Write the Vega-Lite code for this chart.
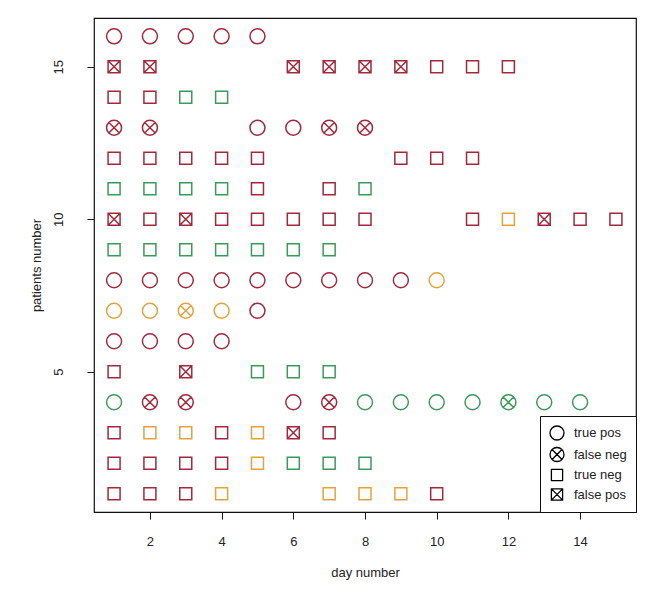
{
  "$schema": "https://vega.github.io/schema/vega-lite/v6.json",
  "width": 542,
  "height": 494,
  "autosize": {"type": "none"},
  "padding": {"left": 94, "top": 18, "right": 32, "bottom": 78},
  "background": "white",
  "config": {
    "font": "Liberation Sans",
    "view": {"stroke": "#111", "strokeWidth": 1.2},
    "axis": {"domain": false, "grid": false, "tickColor": "#111", "tickSize": 7, "tickWidth": 1, "labelFontSize": 13, "labelColor": "#222", "titleFontSize": 13, "titleFontWeight": "normal", "titleColor": "#222"}
  },
  "data": {"values": [
    {"d":1,"p":16,"t":"true pos","c":"red"},{"d":2,"p":16,"t":"true pos","c":"red"},{"d":3,"p":16,"t":"true pos","c":"red"},{"d":4,"p":16,"t":"true pos","c":"red"},{"d":5,"p":16,"t":"true pos","c":"red"},
    {"d":1,"p":15,"t":"false pos","c":"red"},{"d":2,"p":15,"t":"false pos","c":"red"},{"d":6,"p":15,"t":"false pos","c":"red"},{"d":7,"p":15,"t":"false pos","c":"red"},{"d":8,"p":15,"t":"false pos","c":"red"},{"d":9,"p":15,"t":"false pos","c":"red"},{"d":10,"p":15,"t":"true neg","c":"red"},{"d":11,"p":15,"t":"true neg","c":"red"},{"d":12,"p":15,"t":"true neg","c":"red"},
    {"d":1,"p":14,"t":"true neg","c":"red"},{"d":2,"p":14,"t":"true neg","c":"red"},{"d":3,"p":14,"t":"true neg","c":"green"},{"d":4,"p":14,"t":"true neg","c":"green"},
    {"d":1,"p":13,"t":"false neg","c":"red"},{"d":2,"p":13,"t":"false neg","c":"red"},{"d":5,"p":13,"t":"true pos","c":"red"},{"d":6,"p":13,"t":"true pos","c":"red"},{"d":7,"p":13,"t":"false neg","c":"red"},{"d":8,"p":13,"t":"false neg","c":"red"},
    {"d":1,"p":12,"t":"true neg","c":"red"},{"d":2,"p":12,"t":"true neg","c":"red"},{"d":3,"p":12,"t":"true neg","c":"red"},{"d":4,"p":12,"t":"true neg","c":"red"},{"d":5,"p":12,"t":"true neg","c":"red"},{"d":9,"p":12,"t":"true neg","c":"red"},{"d":10,"p":12,"t":"true neg","c":"red"},{"d":11,"p":12,"t":"true neg","c":"red"},
    {"d":1,"p":11,"t":"true neg","c":"green"},{"d":2,"p":11,"t":"true neg","c":"green"},{"d":3,"p":11,"t":"true neg","c":"green"},{"d":4,"p":11,"t":"true neg","c":"green"},{"d":5,"p":11,"t":"true neg","c":"red"},{"d":7,"p":11,"t":"true neg","c":"red"},{"d":8,"p":11,"t":"true neg","c":"green"},
    {"d":1,"p":10,"t":"false pos","c":"red"},{"d":2,"p":10,"t":"true neg","c":"red"},{"d":3,"p":10,"t":"false pos","c":"red"},{"d":4,"p":10,"t":"true neg","c":"red"},{"d":5,"p":10,"t":"true neg","c":"red"},{"d":6,"p":10,"t":"true neg","c":"red"},{"d":7,"p":10,"t":"true neg","c":"red"},{"d":8,"p":10,"t":"true neg","c":"red"},{"d":11,"p":10,"t":"true neg","c":"red"},{"d":12,"p":10,"t":"true neg","c":"orange"},{"d":13,"p":10,"t":"false pos","c":"red"},{"d":14,"p":10,"t":"true neg","c":"red"},{"d":15,"p":10,"t":"true neg","c":"red"},
    {"d":1,"p":9,"t":"true neg","c":"green"},{"d":2,"p":9,"t":"true neg","c":"green"},{"d":3,"p":9,"t":"true neg","c":"green"},{"d":4,"p":9,"t":"true neg","c":"green"},{"d":5,"p":9,"t":"true neg","c":"green"},{"d":6,"p":9,"t":"true neg","c":"green"},{"d":7,"p":9,"t":"true neg","c":"green"},
    {"d":1,"p":8,"t":"true pos","c":"red"},{"d":2,"p":8,"t":"true pos","c":"red"},{"d":3,"p":8,"t":"true pos","c":"red"},{"d":4,"p":8,"t":"true pos","c":"red"},{"d":5,"p":8,"t":"true pos","c":"red"},{"d":6,"p":8,"t":"true pos","c":"red"},{"d":7,"p":8,"t":"true pos","c":"red"},{"d":8,"p":8,"t":"true pos","c":"red"},{"d":9,"p":8,"t":"true pos","c":"red"},{"d":10,"p":8,"t":"true pos","c":"orange"},
    {"d":1,"p":7,"t":"true pos","c":"orange"},{"d":2,"p":7,"t":"true pos","c":"orange"},{"d":3,"p":7,"t":"false neg","c":"orange"},{"d":4,"p":7,"t":"true pos","c":"orange"},{"d":5,"p":7,"t":"true pos","c":"red"},
    {"d":1,"p":6,"t":"true pos","c":"red"},{"d":2,"p":6,"t":"true pos","c":"red"},{"d":3,"p":6,"t":"true pos","c":"red"},{"d":4,"p":6,"t":"true pos","c":"red"},
    {"d":1,"p":5,"t":"true neg","c":"red"},{"d":3,"p":5,"t":"false pos","c":"red"},{"d":5,"p":5,"t":"true neg","c":"green"},{"d":6,"p":5,"t":"true neg","c":"green"},{"d":7,"p":5,"t":"true neg","c":"green"},
    {"d":1,"p":4,"t":"true pos","c":"green"},{"d":2,"p":4,"t":"false neg","c":"red"},{"d":3,"p":4,"t":"false neg","c":"red"},{"d":6,"p":4,"t":"true pos","c":"red"},{"d":7,"p":4,"t":"false neg","c":"red"},{"d":8,"p":4,"t":"true pos","c":"green"},{"d":9,"p":4,"t":"true pos","c":"green"},{"d":10,"p":4,"t":"true pos","c":"green"},{"d":11,"p":4,"t":"true pos","c":"green"},{"d":12,"p":4,"t":"false neg","c":"green"},{"d":13,"p":4,"t":"true pos","c":"green"},{"d":14,"p":4,"t":"true pos","c":"green"},
    {"d":1,"p":3,"t":"true neg","c":"red"},{"d":2,"p":3,"t":"true neg","c":"orange"},{"d":3,"p":3,"t":"true neg","c":"orange"},{"d":4,"p":3,"t":"true neg","c":"red"},{"d":5,"p":3,"t":"true neg","c":"orange"},{"d":6,"p":3,"t":"false pos","c":"red"},{"d":7,"p":3,"t":"true neg","c":"red"},
    {"d":1,"p":2,"t":"true neg","c":"red"},{"d":2,"p":2,"t":"true neg","c":"red"},{"d":3,"p":2,"t":"true neg","c":"red"},{"d":4,"p":2,"t":"true neg","c":"red"},{"d":5,"p":2,"t":"true neg","c":"orange"},{"d":6,"p":2,"t":"true neg","c":"green"},{"d":7,"p":2,"t":"true neg","c":"green"},{"d":8,"p":2,"t":"true neg","c":"green"},
    {"d":1,"p":1,"t":"true neg","c":"red"},{"d":2,"p":1,"t":"true neg","c":"red"},{"d":3,"p":1,"t":"true neg","c":"red"},{"d":4,"p":1,"t":"true neg","c":"orange"},{"d":7,"p":1,"t":"true neg","c":"orange"},{"d":8,"p":1,"t":"true neg","c":"orange"},{"d":9,"p":1,"t":"true neg","c":"orange"},{"d":10,"p":1,"t":"true neg","c":"red"}
  ]},
  "mark": {"type": "point", "filled": false, "strokeWidth": 1.5, "size": 225, "opacity": 1},
  "encoding": {
    "x": {"field": "d", "type": "quantitative", "title": "day number",
      "scale": {"domain": [0.44, 15.56], "nice": false, "zero": false},
      "axis": {"values": [2, 4, 6, 8, 10, 12, 14], "labelPadding": 16, "titlePadding": 18}},
    "y": {"field": "p", "type": "quantitative", "title": "patients number",
      "scale": {"domain": [0.4, 16.6], "nice": false, "zero": false},
      "axis": {"values": [5, 10, 15], "labelAngle": -90, "labelAlign": "center", "labelBaseline": "bottom", "labelPadding": 22, "titlePadding": 9}},
    "color": {"field": "c", "type": "nominal", "legend": null,
      "scale": {"domain": ["red", "green", "orange"], "range": ["#a2293b", "#3b9a59", "#e4a23f"]}},
    "shape": {"field": "t", "type": "nominal", "title": null,
      "scale": {"domain": ["true pos", "false neg", "true neg", "false pos"],
        "range": [
          "M-1,0A1,1 0 1,1 1,0A1,1 0 1,1 -1,0Z",
          "M-1,0A1,1 0 1,1 1,0A1,1 0 1,1 -1,0ZM-0.7071,-0.7071L0.7071,0.7071M-0.7071,0.7071L0.7071,-0.7071",
          "M-0.8,-0.8H0.8V0.8H-0.8Z",
          "M-0.8,-0.8H0.8V0.8H-0.8ZM-0.8,-0.8L0.8,0.8M-0.8,0.8L0.8,-0.8"
        ]},
      "legend": {"orient": "bottom-right", "offset": 0, "strokeColor": "#111", "fillColor": "white", "padding": 9, "rowPadding": 1.5, "symbolSize": 196, "symbolStrokeColor": "black", "symbolStrokeWidth": 1.3, "symbolFillColor": "transparent", "labelFontSize": 13, "labelColor": "#222", "labelOffset": 9}}
  }
}
